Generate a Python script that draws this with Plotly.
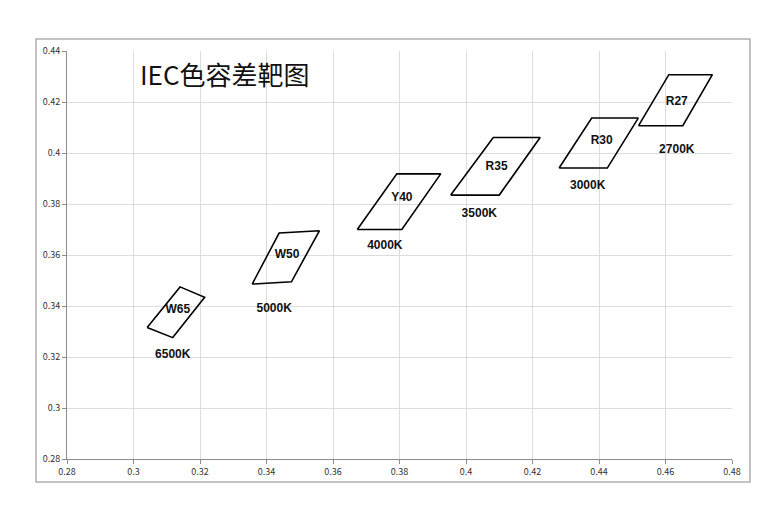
import plotly.graph_objects as go

# quadrilateral corners (CIE x, y)
codes = ["W65", "W50", "Y40", "R35", "R30", "R27"]
cct_names = ["6500K", "5000K", "4000K", "3500K", "3000K", "2700K"]

box_x = [
    [0.3041, 0.3140, 0.3214, 0.3118],
    [0.3357, 0.3438, 0.3559, 0.3475],
    [0.3673, 0.3792, 0.3924, 0.3807],
    [0.3954, 0.4082, 0.4223, 0.4100],
    [0.4280, 0.4378, 0.4518, 0.4425],
    [0.4519, 0.4610, 0.4741, 0.4652],
]
box_y = [
    [0.3316, 0.3475, 0.3434, 0.3276],
    [0.3486, 0.3686, 0.3695, 0.3495],
    [0.3700, 0.3918, 0.3918, 0.3700],
    [0.3835, 0.4061, 0.4061, 0.3835],
    [0.3941, 0.4137, 0.4137, 0.3941],
    [0.4107, 0.4307, 0.4307, 0.4107],
]

# label positions
code_x = [0.3133, 0.3462, 0.3807, 0.4092, 0.4408, 0.4634]
code_y = [0.3383, 0.3601, 0.3822, 0.3947, 0.4048, 0.4200]
cct_x = [0.3118, 0.3423, 0.3756, 0.4040, 0.4366, 0.4634]
cct_y = [0.3209, 0.3388, 0.3636, 0.3761, 0.3869, 0.4013]

fig = go.Figure()

for i in range(len(codes)):
    # close the polygon
    xs = box_x[i] + [box_x[i][0]]
    ys = box_y[i] + [box_y[i][0]]
    fig.add_trace(go.Scatter(x=xs, y=ys, mode="lines",
                             line=dict(color="black", width=1.6),
                             hoverinfo="skip", showlegend=False))

lbl_font = dict(family="Liberation Sans, Arial", size=12, color="#111111")
fig.add_trace(go.Scatter(x=code_x, y=code_y, mode="text", text=["<b>%s</b>" % c for c in codes],
                         textfont=lbl_font, showlegend=False, hoverinfo="skip"))
fig.add_trace(go.Scatter(x=cct_x, y=cct_y, mode="text", text=["<b>%s</b>" % c for c in cct_names],
                         textfont=lbl_font, showlegend=False, hoverinfo="skip"))

axis_common = dict(
    dtick=0.02,
    showgrid=True, gridcolor="#dcdcdc", gridwidth=1,
    showline=True, linecolor="#8c8c8c", linewidth=1,
    ticks="outside", ticklen=4, tickcolor="#8c8c8c",
    tickfont=dict(family="Noto Sans CJK SC, DejaVu Sans", size=9, color="#333333"),
    zeroline=False, mirror=False,
)

# page body adds an 8px offset, so margins are shifted to compensate
fig.update_layout(
    width=777, height=510,
    margin=dict(l=59, r=53, t=43, b=59),
    paper_bgcolor="white", plot_bgcolor="white",
    xaxis=dict(range=[0.28, 0.48], tick0=0.28, **axis_common),
    yaxis=dict(range=[0.28, 0.44], tick0=0.28, **axis_common),
    showlegend=False,
)

# white box behind the title hides the grid lines there
fig.add_shape(type="rect", xref="x", yref="y", x0=0.2805, x1=0.374, y0=0.4235, y1=0.4398,
              fillcolor="white", line=dict(width=0), layer="below")
fig.add_annotation(x=0.3015, y=0.4312, xref="x", yref="y", xanchor="left",
                   text="IEC色容差靶图", showarrow=False,
                   font=dict(family="Noto Sans CJK SC", size=26, color="#111111"))

# outer chart frame
fig.add_shape(type="rect", xref="paper", yref="paper",
              x0=-31 / 665, x1=(750 - 67) / 665, y0=-(482 - 459) / 408, y1=(459 - 39) / 408,
              line=dict(color="#b0b0b0", width=1.5), fillcolor="rgba(0,0,0,0)")

fig.write_html("out.html")
